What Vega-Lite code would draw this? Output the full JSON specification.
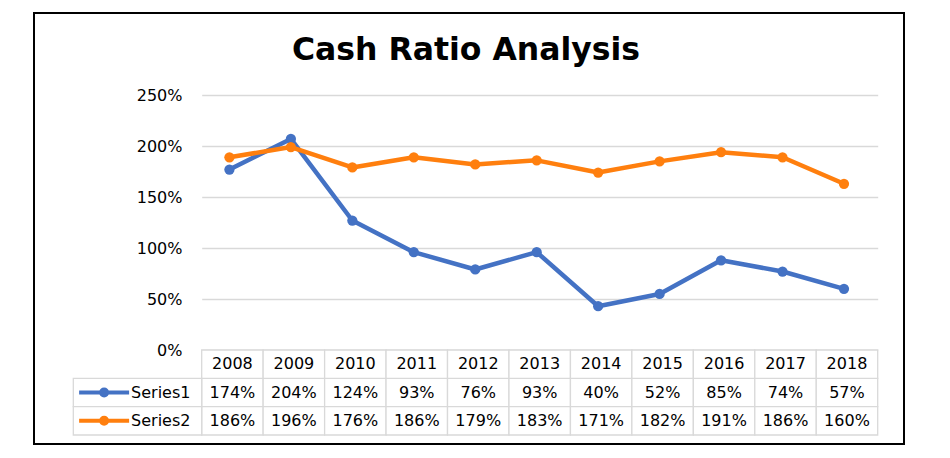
{
  "$schema": "https://vega.github.io/schema/vega-lite/v6.json",
  "width": 870,
  "height": 431,
  "autosize": {"type": "none"},
  "padding": {"left": 34, "top": 13, "right": 46, "bottom": 14},
  "background": "white",
  "title": {"text": "Cash Ratio Analysis", "font": "DejaVu Sans", "fontSize": 31.5, "fontWeight": "bold", "color": "black", "anchor": "middle", "frame": "group", "baseline": "alphabetic", "offset": -78, "dx": -3},
  "config": {"view": {"stroke": "black", "strokeWidth": 2}},
  "data": {"values": [
    {"year": "2008", "series": "Series1", "value": 1.74},
    {"year": "2009", "series": "Series1", "value": 2.04},
    {"year": "2010", "series": "Series1", "value": 1.24},
    {"year": "2011", "series": "Series1", "value": 0.93},
    {"year": "2012", "series": "Series1", "value": 0.76},
    {"year": "2013", "series": "Series1", "value": 0.93},
    {"year": "2014", "series": "Series1", "value": 0.40},
    {"year": "2015", "series": "Series1", "value": 0.52},
    {"year": "2016", "series": "Series1", "value": 0.85},
    {"year": "2017", "series": "Series1", "value": 0.74},
    {"year": "2018", "series": "Series1", "value": 0.57},
    {"year": "2008", "series": "Series2", "value": 1.86},
    {"year": "2009", "series": "Series2", "value": 1.96},
    {"year": "2010", "series": "Series2", "value": 1.76},
    {"year": "2011", "series": "Series2", "value": 1.86},
    {"year": "2012", "series": "Series2", "value": 1.79},
    {"year": "2013", "series": "Series2", "value": 1.83},
    {"year": "2014", "series": "Series2", "value": 1.71},
    {"year": "2015", "series": "Series2", "value": 1.82},
    {"year": "2016", "series": "Series2", "value": 1.91},
    {"year": "2017", "series": "Series2", "value": 1.86},
    {"year": "2018", "series": "Series2", "value": 1.60}
  ]},
  "layer": [
    {
      "layer": [
        {
          "mark": {"type": "line", "strokeWidth": 4.5, "xOffset": -3, "yOffset": -3, "strokeCap": "round", "strokeJoin": "round"},
          "encoding": {
            "x": {"field": "year", "type": "ordinal", "bandPosition": 0.5, "axis": null,
                  "scale": {"type": "band", "domain": ["2008","2009","2010","2011","2012","2013","2014","2015","2016","2017","2018"], "range": [167.7, 843.7], "paddingInner": 0, "paddingOuter": 0}},
            "y": {"field": "value", "type": "quantitative",
                  "scale": {"domain": [0, 2.5], "range": [337, 82], "nice": false, "zero": false},
                  "axis": {"values": [0, 0.5, 1, 1.5, 2, 2.5], "format": ".0%", "title": null, "domain": false, "ticks": false, "grid": true, "gridColor": "#d9d9d9", "gridWidth": 1.3, "offset": -148, "labelPadding": 0, "labelFont": "DejaVu Sans", "labelFontSize": 16, "labelColor": "black"}},
            "color": {"field": "series", "type": "nominal", "legend": null, "scale": {"domain": ["Series1", "Series2"], "range": ["#4472C4", "#FF7F0E"]}}
          }
        },
        {
          "mark": {"type": "point", "filled": true, "size": 105, "opacity": 1, "xOffset": -3, "yOffset": -3},
          "encoding": {
            "x": {"field": "year", "type": "ordinal", "bandPosition": 0.5},
            "y": {"field": "value", "type": "quantitative"},
            "color": {"field": "series", "type": "nominal", "legend": null}
          }
        }
      ]
    },
    {
      "layer": [
        {
          "mark": {"type": "rect", "fill": "white", "stroke": "#d9d9d9", "strokeWidth": 1.3},
          "encoding": {
            "x": {"field": "year", "type": "ordinal", "axis": null,
                  "scale": {"type": "band", "domain": ["2008","2009","2010","2011","2012","2013","2014","2015","2016","2017","2018"], "range": [167.7, 843.7], "paddingInner": 0, "paddingOuter": 0}},
            "y": {"field": "series", "type": "nominal", "axis": null,
                  "scale": {"type": "band", "domain": ["year", "Series1", "Series2"], "range": [337, 422], "paddingInner": 0, "paddingOuter": 0}}
          }
        },
        {
          "transform": [{"filter": "datum.series === 'Series1'"}],
          "mark": {"type": "rect", "fill": "white", "stroke": "#d9d9d9", "strokeWidth": 1.3},
          "encoding": {
            "x": {"field": "year", "type": "ordinal"},
            "y": {"datum": "year", "type": "nominal"}
          }
        },
        {
          "mark": {"type": "text", "font": "DejaVu Sans", "fontSize": 16, "color": "black", "align": "center", "baseline": "middle"},
          "encoding": {
            "x": {"field": "year", "type": "ordinal", "bandPosition": 0.5},
            "y": {"field": "series", "type": "nominal", "bandPosition": 0.5},
            "text": {"field": "value", "type": "quantitative", "format": ".0%"}
          }
        },
        {
          "transform": [{"filter": "datum.series === 'Series1'"}],
          "mark": {"type": "text", "font": "DejaVu Sans", "fontSize": 16, "color": "black", "align": "center", "baseline": "middle"},
          "encoding": {
            "x": {"field": "year", "type": "ordinal", "bandPosition": 0.5},
            "y": {"datum": "year", "type": "nominal", "bandPosition": 0.5},
            "text": {"field": "year", "type": "nominal"}
          }
        }
      ]
    },
    {
      "transform": [{"filter": "datum.year === '2008'"}],
      "layer": [
        {
          "mark": {"type": "rect", "fill": "white", "stroke": "#d9d9d9", "strokeWidth": 1.3},
          "encoding": {
            "x": {"datum": "legend", "type": "nominal", "axis": null,
                  "scale": {"type": "band", "domain": ["legend"], "range": [39.3, 167.7], "paddingInner": 0, "paddingOuter": 0}},
            "y": {"field": "series", "type": "nominal", "axis": null,
                  "scale": {"type": "band", "domain": ["year", "Series1", "Series2"], "range": [337, 422], "paddingInner": 0, "paddingOuter": 0}}
          }
        },
        {
          "mark": {"type": "point", "shape": "M-1,0L1,0M-0.12,0A0.12,0.12,0,1,1,0.12,0A0.12,0.12,0,1,1,-0.12,0Z", "size": 2500, "filled": true, "opacity": 1, "strokeWidth": 4, "strokeOpacity": 1},
          "encoding": {
            "x": {"datum": "legend", "type": "nominal", "bandPosition": 0.24},
            "y": {"field": "series", "type": "nominal", "bandPosition": 0.5},
            "color": {"field": "series", "type": "nominal", "legend": null},
            "stroke": {"field": "series", "type": "nominal", "legend": null, "scale": {"domain": ["Series1", "Series2"], "range": ["#4472C4", "#FF7F0E"]}}
          }
        },
        {
          "mark": {"type": "text", "font": "DejaVu Sans", "fontSize": 16, "color": "black", "align": "left", "baseline": "middle"},
          "encoding": {
            "x": {"datum": "legend", "type": "nominal", "bandPosition": 0.45},
            "y": {"field": "series", "type": "nominal", "bandPosition": 0.5},
            "text": {"field": "series", "type": "nominal"}
          }
        }
      ]
    }
  ],
  "resolve": {"scale": {"x": "independent", "y": "independent"}}
}
